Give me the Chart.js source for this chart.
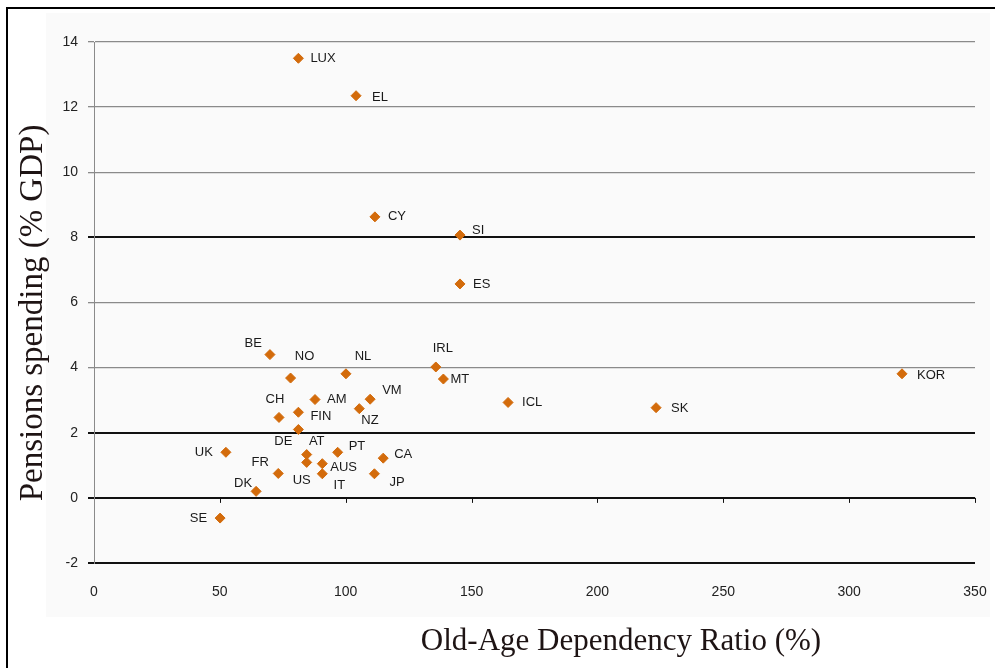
<!DOCTYPE html>
<html>
    <head>
        <title>Pensions spending vs old-age dependency</title>
        <meta charset="utf-8">
        <style>
            body { margin: 0; background: #fff; }
            .frame { position: absolute; left: 6px; top: 7px; width: 989px; height: 661px;
                     border-left: 2px solid #000; border-top: 2px solid #000; pointer-events: none; }
            canvas { position: absolute; left: 0; top: 0; }
        </style>
    </head>
    <body>
        <canvas id="myChart" width="995" height="668"></canvas>
        <div class="frame"></div>
        <script src="https://cdn.jsdelivr.net/npm/chart.js@4.4.1/dist/chart.umd.min.js"></script>
        <script>
            // data
            var countries = ['LUX','EL','CY','SI','ES','BE','NO','NL','IRL','MT','KOR','VM','AM','NZ','CH','FIN',
                             'ICL','SK','DE','UK','AT','US','AUS','IT','PT','CA','JP','FR','DK','SE'];
            var dependencyRatio = [81.2, 104.1, 111.6, 145.4, 145.4, 69.9, 78.1, 100.1, 135.8, 138.8, 321.0, 109.7, 87.8, 105.4, 73.5, 81.2,
                                   164.5, 223.3, 81.2, 52.4, 84.5, 84.5, 90.7, 90.7, 96.8, 114.9, 111.4, 73.2, 64.4, 50.1];
            var pensionSpending = [13.50, 12.35, 8.63, 8.07, 6.57, 4.40, 3.68, 3.81, 4.02, 3.65, 3.81, 3.03, 3.02, 2.74, 2.47, 2.63,
                                   2.93, 2.77, 2.10, 1.40, 1.33, 1.09, 1.05, 0.74, 1.40, 1.22, 0.74, 0.75, 0.20, -0.62];
            var xTicks = [0, 50, 100, 150, 200, 250, 300, 350];
            var yTicks = [-2, 0, 2, 4, 6, 8, 10, 12, 14];
            var darkLines = [8, 2, 0, -2];

            // where each label sits relative to its marker (px)
            var labelPos = {
                LUX: [12, 0, 'left'], EL: [16, 2, 'left'], CY: [13, 0, 'left'], SI: [12, -5, 'left'], ES: [13, 0, 'left'],
                BE: [-8, -11, 'right'], NO: [14, -22, 'center'], NL: [17, -17, 'center'], IRL: [7, -19, 'center'],
                MT: [7, 0, 'left'], KOR: [15, 2, 'left'], VM: [12, -9, 'left'], AM: [12, 0, 'left'], NZ: [2, 12, 'left'],
                CH: [-4, -18, 'center'], FIN: [12, 4, 'left'], ICL: [14, 0, 'left'], SK: [15, 1, 'left'],
                DE: [-15, 12, 'center'], UK: [-13, 0, 'right'], AT: [10, -13, 'center'], US: [-5, 18, 'center'],
                AUS: [8, 4, 'left'], IT: [17, 12, 'center'], PT: [11, -6, 'left'], CA: [11, -4, 'left'],
                JP: [15, 9, 'left'], FR: [-18, -11, 'center'], DK: [-13, -8, 'center'], SE: [-13, 0, 'right']
            };

            var points = countries.map(function(c, i) {
                return {x: dependencyRatio[i], y: pensionSpending[i], label: c};
            });

            var panelPlugin = {
                id: 'panel',
                beforeDraw: function(chart) {
                    var ctx = chart.ctx;
                    ctx.save();
                    ctx.fillStyle = '#fafafa';
                    ctx.fillRect(46, 13, 944, 604);
                    ctx.restore();
                }
            };

            var zeroTicksPlugin = {
                id: 'zeroTicks',
                beforeDatasetsDraw: function(chart) {
                    var ctx = chart.ctx, xs = chart.scales.x, ys = chart.scales.y;
                    var y0 = ys.getPixelForValue(0);
                    ctx.save();
                    ctx.strokeStyle = '#111';
                    ctx.lineWidth = 1;
                    xTicks.forEach(function(v) {
                        if (v === 0) return;
                        var px = Math.round(xs.getPixelForValue(v)) + 0.5;
                        ctx.beginPath();
                        ctx.moveTo(px, y0);
                        ctx.lineTo(px, y0 + 5);
                        ctx.stroke();
                    });
                    ctx.restore();
                }
            };

            var labelsPlugin = {
                id: 'pointLabels',
                afterDatasetsDraw: function(chart) {
                    var ctx = chart.ctx, meta = chart.getDatasetMeta(0);
                    ctx.save();
                    ctx.font = '13px "Liberation Sans", Arial, sans-serif';
                    ctx.fillStyle = '#1a1a1a';
                    ctx.textBaseline = 'middle';
                    meta.data.forEach(function(el, i) {
                        var p = labelPos[countries[i]] || [10, 0, 'left'];
                        ctx.textAlign = p[2];
                        ctx.fillText(countries[i], el.x + p[0], el.y + p[1]);
                    });
                    ctx.restore();
                }
            };

            var titlesPlugin = {
                id: 'axisTitles',
                afterDraw: function(chart) {
                    var ctx = chart.ctx;
                    ctx.save();
                    ctx.fillStyle = '#1e1414';
                    ctx.textAlign = 'center';
                    ctx.textBaseline = 'middle';
                    ctx.font = '31px "Liberation Serif", "Times New Roman", serif';
                    ctx.fillText('Old-Age Dependency Ratio (%)', 621, 642);
                    ctx.font = '33px "Liberation Serif", "Times New Roman", serif';
                    ctx.translate(33, 313);
                    ctx.rotate(-Math.PI / 2);
                    ctx.fillText('Pensions spending (% GDP)', 0, 0);
                    ctx.restore();
                }
            };

            var ctx = document.getElementById('myChart').getContext('2d');
            var chart = new Chart(ctx, {
                type: 'scatter',
                data: {
                    datasets: [{
                        data: points,
                        pointStyle: 'rectRot',
                        pointRadius: 5,
                        backgroundColor: '#d36b0b',
                        borderColor: '#d36b0b',
                        borderWidth: 1
                    }]
                },
                options: {
                    responsive: false,
                    animation: false,
                    layout: { padding: { left: 0, top: 42, right: 20, bottom: 0 } },
                    plugins: { legend: { display: false }, tooltip: { enabled: false } },
                    scales: {
                        x: {
                            type: 'linear', min: 0, max: 350,
                            afterBuildTicks: function(s) { s.ticks = xTicks.map(function(v) { return {value: v}; }); },
                            afterFit: function(s) { s.height = 105; s.paddingLeft = 0; s.paddingRight = 0; },
                            grid: { display: false, drawTicks: false },
                            border: { display: false },
                            ticks: { padding: 21, color: '#222', font: { family: '"Liberation Sans", Arial, sans-serif', size: 14 } }
                        },
                        y: {
                            type: 'linear', min: -2, max: 14,
                            afterBuildTicks: function(s) { s.ticks = yTicks.map(function(v) { return {value: v}; }); },
                            afterFit: function(s) { s.width = 94; s.paddingTop = 0; s.paddingBottom = 0; },
                            grid: {
                                color: function(c) { return darkLines.indexOf(c.tick.value) >= 0 ? '#111' : '#8a8a8a'; },
                                lineWidth: function(c) { return darkLines.indexOf(c.tick.value) >= 0 ? 2 : 1.3; },
                                tickLength: 6
                            },
                            border: { display: true, color: '#8a8a8a', width: 1 },
                            ticks: { padding: 10, color: '#222', font: { family: '"Liberation Sans", Arial, sans-serif', size: 14 } }
                        }
                    }
                },
                plugins: [panelPlugin, zeroTicksPlugin, labelsPlugin, titlesPlugin]
            });
        </script>
    </body>
</html>
